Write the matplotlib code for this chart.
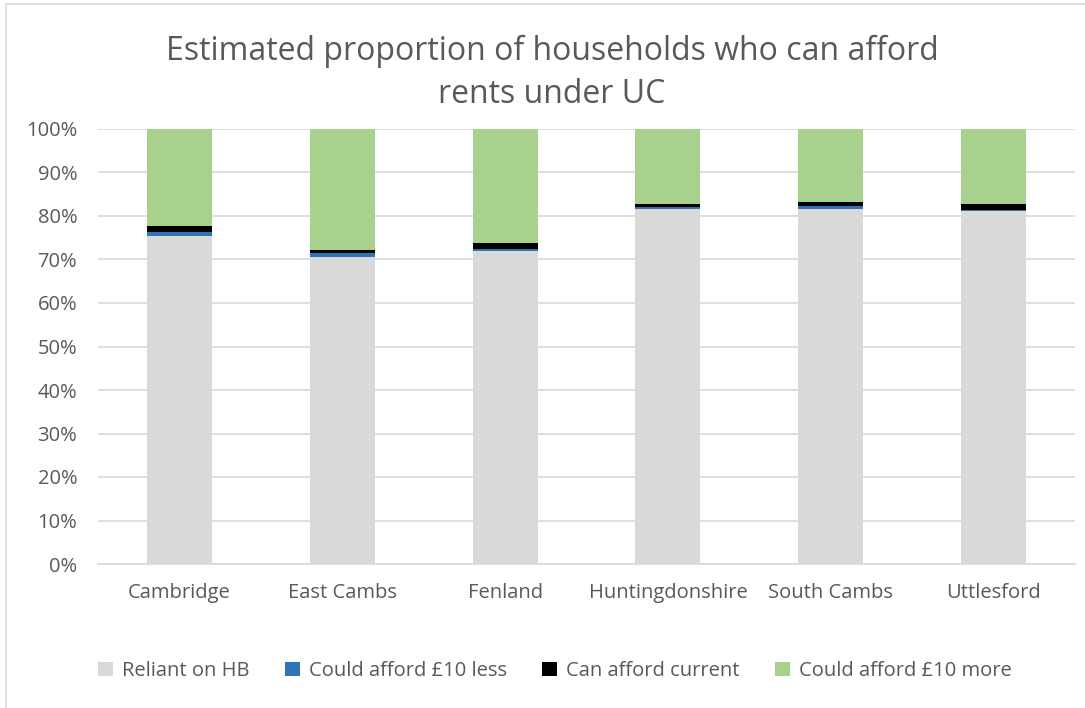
import numpy as np
import matplotlib.pyplot as plt
from matplotlib.patches import Rectangle
from matplotlib.ticker import PercentFormatter

# Chart data (percent of households)
districts = ["Cambridge", "East Cambs", "Fenland", "Huntingdonshire", "South Cambs", "Uttlesford"]
reliant_hb = [75.5, 70.5, 72.0, 81.5, 81.7, 81.1]
afford_10_less = [0.9, 0.9, 0.45, 0.6, 0.65, 0.3]
afford_current = [1.2, 0.8, 1.4, 0.6, 0.95, 1.3]
afford_10_more = [22.4, 27.8, 26.15, 17.3, 16.7, 17.3]

series_names = ["Reliant on HB", "Could afford £10 less", "Can afford current", "Could afford £10 more"]
series_colors = ["#D9D9D9", "#2E75B6", "#000000", "#A9D18E"]

plt.rcParams["font.family"] = ["Open Sans", "DejaVu Sans"]
text_grey = "#595959"

fig = plt.figure(figsize=(10.85, 7.08), dpi=100)
ax = fig.add_axes([98 / 1085, 1 - 564 / 708, 977 / 1085, 435 / 708])

# light outer chart border
fig.patches.append(Rectangle((6 / 1085, -0.05), 1.2, 1 - 4 / 708 + 0.05, transform=fig.transFigure,
                             fill=False, edgecolor="#D9D9D9", linewidth=1.2))

x = np.arange(len(districts))
bottom = np.zeros(len(districts))
for vals, name, col in zip([reliant_hb, afford_10_less, afford_current, afford_10_more],
                           series_names, series_colors):
    ax.bar(x, vals, width=0.4, bottom=bottom, color=col, label=name, zorder=3)
    bottom += np.array(vals)

ax.set_xlim(-0.5, len(districts) - 0.5)
ax.set_ylim(0, 100)
ax.set_yticks(np.arange(0, 101, 10))
ax.yaxis.set_major_formatter(PercentFormatter(decimals=0))
ax.set_xticks(x)
ax.set_xticklabels(districts)
ax.tick_params(axis="both", length=0, labelsize=14.5, colors=text_grey)
ax.tick_params(axis="x", pad=14)
ax.tick_params(axis="y", pad=15)
ax.grid(axis="y", color="#D9D9D9", linewidth=1.2, zorder=0)
for side in ["top", "right", "left"]:
    ax.spines[side].set_visible(False)
ax.spines["bottom"].set_color("#D9D9D9")
ax.spines["bottom"].set_linewidth(1.2)

fig.text(552 / 1085, 1 - 73 / 708, "Estimated proportion of households who can afford\nrents under UC",
         ha="center", va="center", fontsize=23, color=text_grey, linespacing=1.38)

fig.legend(loc="center", bbox_to_anchor=(555 / 1085, 1 - 671 / 708), ncol=4, frameon=False,
           fontsize=14.5, labelcolor=text_grey, handlelength=0.75, handleheight=0.75,
           handletextpad=0.45, columnspacing=1.75)

fig.savefig("out.png", dpi=100)
